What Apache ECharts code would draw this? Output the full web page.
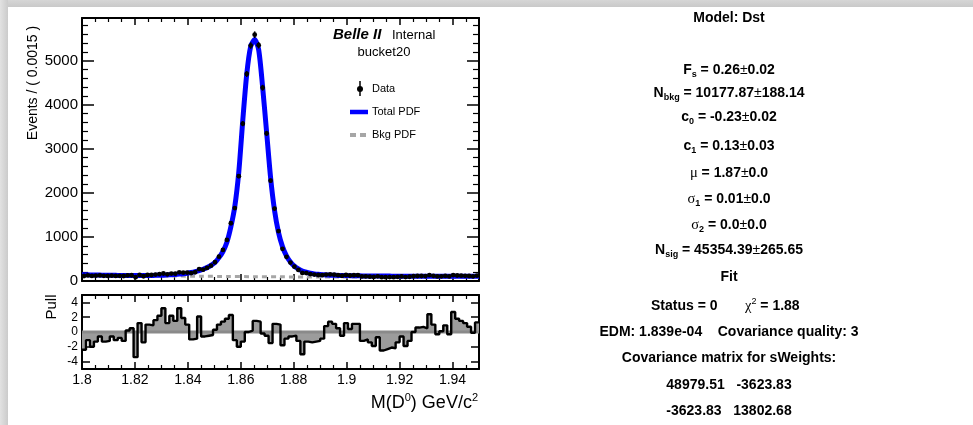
<!DOCTYPE html>
<html>
<head>
<meta charset="utf-8">
<script src="https://cdn.jsdelivr.net/npm/echarts@6/dist/echarts.min.js"></script>
<style>
html,body{margin:0;padding:0;background:#fff;}
#c{width:973px;height:425px;}
</style>
</head>
<body>
<div id="c"></div>
<script>
// ---- binning ----
const binLow = 1.8;
const binWidth = 0.0015;
const xMin = 1.8, xMax = 1.95;

// ---- data counts per bin ----
const counts = [113,127,115,121,127,117,116,122,116,118,
  113,127,130,86,137,108,136,136,146,155,
  170,151,168,166,196,190,191,179,199,268,
  256,296,347,426,553,706,933,1311,1655,2380,
  3572,4700,5345,5591,5351,4387,3351,2277,1644,1133,
  730,549,418,326,252,183,180,158,145,136,
  132,146,149,143,133,119,136,125,131,130,
  103,104,99,93,106,86,87,89,87,95,
  103,89,96,108,114,114,112,132,117,103,
  107,115,103,134,125,121,118,114,106,120];

// ---- total PDF at bin centres ----
const totalPdf = [142,140,138,136,134,132,130,129,128,127,
  126,125,124,124,124,124,125,126,128,130,
  133,137,142,148,156,166,178,193,212,236,
  266,305,355,420,530,670,880,1230,1700,2480,
  3650,4700,5330,5480,5250,4400,3380,2350,1600,1100,
  780,570,430,335,272,228,198,177,162,151,
  143,137,133,130,127,125,123,121,119,118,
  116,115,114,113,113,112,111,111,110,110,
  109,109,108,108,108,107,107,107,107,106,
  106,106,106,106,106,106,106,107,107,107];
const totalPdfEdges = [143, 107];

// ---- background PDF ----
const bkgX = [1.80,1.81,1.82,1.83,1.84,1.85,1.86,1.87,1.88,1.89,1.90,1.91,1.92,1.93,1.94,1.95];
const bkgY = [140,131,123,116,110,105,100,96,93,91,89,88,88,88,89,91];

// ---- pulls per bin ----
const pulls = [-2.4,-1.1,-2.0,-1.3,-0.6,-1.3,-1.2,-0.6,-1.1,-0.8,
  -1.2,0.2,0.5,-3.4,1.2,-1.4,1.0,0.9,1.6,2.2,
  3.2,1.2,2.2,1.5,3.2,1.9,1.0,-1.0,-0.9,2.1,
  -0.6,-0.5,-0.4,0.3,1.0,1.4,1.8,2.3,-1.1,-2.0,
  -1.3,0.0,0.2,1.5,1.4,-0.2,-0.5,-1.5,1.1,1.0,
  -1.8,-0.9,-0.6,-0.5,-1.2,-3.0,-1.3,-1.4,-1.3,-1.2,
  -0.9,0.8,1.4,1.1,0.5,-0.5,1.2,0.4,1.1,1.1,
  -1.2,-1.0,-1.4,-1.9,-0.7,-2.5,-2.3,-2.1,-2.2,-1.4,
  -0.6,-1.9,-1.2,0.0,0.6,0.7,0.5,2.4,1.0,-0.3,
  0.1,0.9,-0.3,2.7,1.8,1.5,1.2,0.7,-0.1,1.3];

// ---- ticks ----
const mainYMax = 5970;
const mainYInterval = 1000;
const pullTicks = [-4,-2,0,2,4];
const xInterval = 0.02;

// ---- build series data ----
const centers = counts.map((_, i) => binLow + (i + 0.5) * binWidth);
const dataPts = counts.map((c, i) => [centers[i], c, Math.sqrt(c)]);
const pdfPts = [[xMin, totalPdfEdges[0]]].concat(totalPdf.map((v, i) => [centers[i], v])).concat([[xMax, totalPdfEdges[1]]]);
const bkgPts = bkgX.map((x, i) => [x, bkgY[i]]);
const pullPts = pulls.map((p, i) => [binLow + i * binWidth, p]).concat([[xMax, pulls[pulls.length - 1]]]);

const FONT = 'Liberation Sans';
const axisLine = {show: true, onZero: false, lineStyle: {color: '#000', width: 2}};

function xAxisDef(grid, pos, labels) {
  return {
    type: 'value', gridIndex: grid, position: pos, min: xMin, max: xMax, interval: xInterval,
    axisLine: axisLine,
    axisTick: {show: true, inside: true, length: 7, lineStyle: {color: '#000', width: 1.5}},
    minorTick: {show: true, splitNumber: 4, length: 4, lineStyle: {color: '#000', width: 1.2}},
    splitLine: {show: false},
    axisLabel: {show: labels, fontFamily: FONT, fontSize: 14, color: '#000', margin: 4, showMaxLabel: false,
      formatter: v => String(Math.round(v * 100) / 100)}
  };
}
function mainY(pos, labels) {
  return {
    type: 'value', gridIndex: 0, position: pos, min: 0, max: mainYMax, interval: mainYInterval,
    axisLine: axisLine,
    axisTick: {show: true, inside: true, length: 12, lineStyle: {color: '#000', width: 1.5}},
    minorTick: {show: true, splitNumber: 5, length: 6, lineStyle: {color: '#000', width: 1.2}},
    splitLine: {show: false},
    axisLabel: {show: labels, fontFamily: FONT, fontSize: 15, color: '#000', margin: 4, showMaxLabel: false,
      formatter: v => String(v)}
  };
}
function pullY(pos, labels) {
  return {
    type: 'value', gridIndex: 1, position: pos, min: -5, max: 5,
    axisLine: axisLine,
    axisTick: {show: true, inside: true, length: 8, customValues: pullTicks, lineStyle: {color: '#000', width: 1.5}},
    splitLine: {show: false},
    axisLabel: {show: labels, customValues: pullTicks, fontFamily: FONT, fontSize: 12, color: '#000', margin: 4,
      formatter: v => String(v)}
  };
}

const FS = 14;
const bold = {fontFamily: FONT, fontWeight: 'bold', fontSize: FS, lineHeight: 18, color: '#000'};
const sub = {fontFamily: FONT, fontWeight: 'bold', fontSize: 9, lineHeight: 9, verticalAlign: 'bottom', color: '#000'};
const sup = {fontFamily: FONT, fontWeight: 'normal', fontSize: 9, lineHeight: 9, verticalAlign: 'top', color: '#000'};
const pm = {fontFamily: FONT, fontWeight: 'normal', fontSize: FS, lineHeight: 18, color: '#000'};
const greek = {fontFamily: 'Liberation Serif', fontWeight: 'normal', fontSize: 14.5, lineHeight: 18, color: '#000'};
const rich = {b: bold, s: sub, p: pm, g: greek, sp: sup};
const CX = 729;
function rtext(txt, y, x, align) {
  return {type: 'text', x: x === undefined ? CX : x, y: y,
    style: {text: txt, rich: rich, align: align || 'center', verticalAlign: 'middle'}};
}

const graphics = [
  // window frame shading
  {type: 'rect', shape: {x: 0, y: 0, width: 973, height: 7},
    style: {fill: new echarts.graphic.LinearGradient(0, 0, 0, 1, [{offset: 0, color: '#d6d6d6'}, {offset: 1, color: '#c9c9c9'}])}, z: 100},
  {type: 'rect', shape: {x: 0, y: 0, width: 8, height: 425},
    style: {fill: new echarts.graphic.LinearGradient(0, 0, 1, 0, [{offset: 0, color: '#e2e2e2'}, {offset: 1, color: '#cbcbcb'}])}, z: 100},
  // axis titles
  {type: 'text', x: 33, y: 83, rotation: Math.PI / 2,
    style: {text: 'Events / ( 0.0015 )', fontFamily: FONT, fontSize: 14, fill: '#000', align: 'center', verticalAlign: 'middle'}},
  {type: 'text', x: 52, y: 307, rotation: Math.PI / 2,
    style: {text: 'Pull', fontFamily: FONT, fontSize: 15, fill: '#000', align: 'center', verticalAlign: 'middle'}},
  {type: 'text', x: 478, y: 403,
    style: {text: '{t|M(D}{u|0}{t|) GeV/c}{u|2}', align: 'right', verticalAlign: 'middle',
      rich: {t: {fontFamily: FONT, fontSize: 18, lineHeight: 22, color: '#000'},
             u: {fontFamily: FONT, fontSize: 11, lineHeight: 11, verticalAlign: 'top', color: '#000'}}}},
  // Belle II label
  {type: 'text', x: 333, y: 35,
    style: {text: 'Belle II', fontFamily: FONT, fontSize: 15, fontWeight: 'bold', fontStyle: 'italic', fill: '#000', align: 'left', verticalAlign: 'middle'}},
  {type: 'text', x: 392, y: 35,
    style: {text: 'Internal', fontFamily: FONT, fontSize: 13, fill: '#000', align: 'left', verticalAlign: 'middle'}},
  {type: 'text', x: 384, y: 52,
    style: {text: 'bucket20', fontFamily: FONT, fontSize: 13, fill: '#000', align: 'center', verticalAlign: 'middle'}},
  // legend
  {type: 'line', shape: {x1: 360, y1: 81, x2: 360, y2: 96}, style: {stroke: '#000', lineWidth: 1.5}},
  {type: 'circle', shape: {cx: 360, cy: 89, r: 3}, style: {fill: '#000'}},
  {type: 'text', x: 372, y: 89, style: {text: 'Data', fontFamily: FONT, fontSize: 11, fill: '#000', align: 'left', verticalAlign: 'middle'}},
  {type: 'line', shape: {x1: 350, y1: 112, x2: 368, y2: 112}, style: {stroke: '#0000ff', lineWidth: 4.5}},
  {type: 'text', x: 372, y: 112, style: {text: 'Total PDF', fontFamily: FONT, fontSize: 11, fill: '#000', align: 'left', verticalAlign: 'middle'}},
  {type: 'line', shape: {x1: 350, y1: 135, x2: 368, y2: 135}, style: {stroke: '#a6a6a6', lineWidth: 4, lineDash: [6, 4]}},
  {type: 'text', x: 372, y: 135, style: {text: 'Bkg PDF', fontFamily: FONT, fontSize: 11, fill: '#000', align: 'left', verticalAlign: 'middle'}},
  // fit summary
  rtext('{b|Model: Dst}', 18),
  rtext('{b|F}{s|s}{b| = 0.26}{p|±}{b|0.02}', 70),
  rtext('{b|N}{s|bkg}{b| = 10177.87}{p|±}{b|188.14}', 93),
  rtext('{b|c}{s|0}{b| = -0.23}{p|±}{b|0.02}', 117),
  rtext('{b|c}{s|1}{b| = 0.13}{p|±}{b|0.03}', 146),
  rtext('{g|μ}{b| = 1.87}{p|±}{b|0.0}', 173),
  rtext('{g|σ}{s|1}{b| = 0.01}{p|±}{b|0.0}', 199),
  rtext('{g|σ}{s|2}{b| = 0.0}{p|±}{b|0.0}', 225),
  rtext('{b|N}{s|sig}{b| = 45354.39}{p|±}{b|265.65}', 250),
  rtext('{b|Fit}', 277),
  rtext('{b|Status = 0}', 306, 651, 'left'),
  rtext('{g|χ}{sp|2}{b| = 1.88}', 306, 745, 'left'),
  rtext('{b|EDM: 1.839e-04    Covariance quality: 3}', 332),
  rtext('{b|Covariance matrix for sWeights:}', 358),
  rtext('{b|48979.51   -3623.83}', 385),
  rtext('{b|-3623.83   13802.68}', 411)
];

const chart = echarts.init(document.getElementById('c'), null, {renderer: 'canvas'});
chart.setOption({
  animation: false,
  backgroundColor: '#fff',
  grid: [
    {left: 82, top: 18, width: 397, height: 263},
    {left: 82, top: 295, width: 397, height: 74}
  ],
  xAxis: [xAxisDef(0, 'bottom', false), xAxisDef(0, 'top', false), xAxisDef(1, 'bottom', true), xAxisDef(1, 'top', false)],
  yAxis: [mainY('left', true), mainY('right', false), pullY('left', true), pullY('right', false)],
  graphic: graphics,
  series: [
    {name: 'Bkg PDF', type: 'line', xAxisIndex: 0, yAxisIndex: 0, data: bkgPts, smooth: true, showSymbol: false,
      lineStyle: {color: '#a6a6a6', width: 3, type: [5, 4]}, z: 2},
    {name: 'Total PDF', type: 'line', xAxisIndex: 0, yAxisIndex: 0, data: pdfPts, smooth: 0.25, showSymbol: false,
      lineStyle: {color: '#0000ff', width: 5}, z: 3},
    {name: 'Data', type: 'custom', xAxisIndex: 0, yAxisIndex: 0, data: dataPts, z: 4,
      renderItem: function (params, api) {
        const x = api.value(0), y = api.value(1), e = api.value(2);
        const p = api.coord([x, y]);
        const lo = api.coord([x, y - e]);
        const hi = api.coord([x, y + e]);
        return {type: 'group', children: [
          {type: 'line', shape: {x1: p[0], y1: lo[1], x2: p[0], y2: hi[1]}, style: {stroke: '#000', lineWidth: 1.5}},
          {type: 'circle', shape: {cx: p[0], cy: p[1], r: 2.4}, style: {fill: '#000'}}
        ]};
      }},
    {name: 'PullFill', type: 'line', xAxisIndex: 2, yAxisIndex: 2, data: pullPts, step: 'end', showSymbol: false,
      lineStyle: {width: 0}, areaStyle: {color: '#9c9c9c', opacity: 1}, z: 1},
    {name: 'Zero', type: 'line', xAxisIndex: 2, yAxisIndex: 2, data: [[xMin, 0], [xMax, 0]], showSymbol: false,
      lineStyle: {color: '#8a8a8a', width: 3}, z: 2},
    {name: 'Pull', type: 'line', xAxisIndex: 2, yAxisIndex: 2, data: pullPts, step: 'end', showSymbol: false,
      lineStyle: {color: '#000', width: 2.4}, z: 3}
  ]
});
</script>
</body>
</html>
